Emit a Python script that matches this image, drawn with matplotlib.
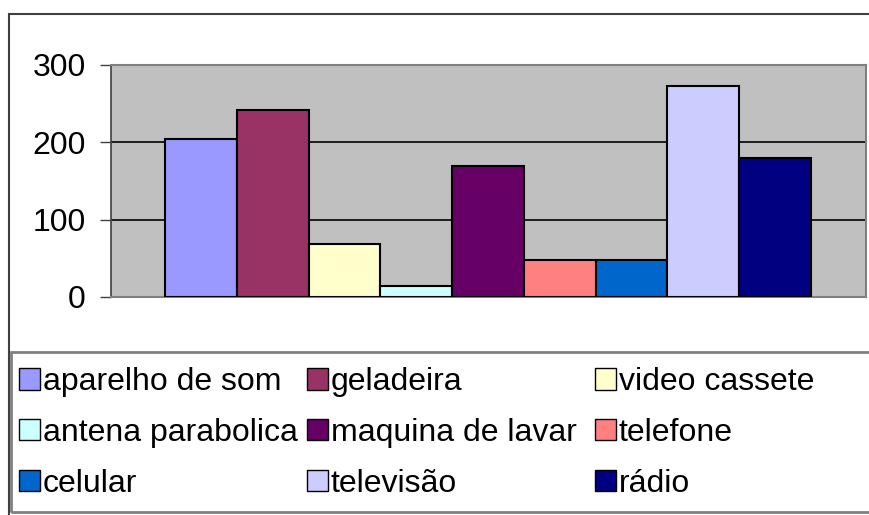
"""Excel-style bar chart: household appliances count, one bar per item."""
import matplotlib
matplotlib.use("Agg")
import matplotlib.pyplot as plt
from matplotlib.patches import Rectangle, Patch

plt.rcParams["font.family"] = ["Liberation Sans", "DejaVu Sans"]

# ── data ──────────────────────────────────────────────────────────────────────
items = [
    "aparelho de som", "geladeira", "video cassete",
    "antena parabolica", "maquina de lavar", "telefone",
    "celular", "televisão", "rádio",
]
values = [204, 242, 69, 14, 169, 48, 48, 273, 180]
colors = [
    "#9999FF", "#993366", "#FFFFCC",
    "#CCFFFF", "#660066", "#FF8080",
    "#0066CC", "#CCCCFF", "#000080",
]
yticks = [0, 100, 200, 300]

W, H = 870, 515
fig = plt.figure(figsize=(W / 100, H / 100), dpi=100)

# outer chart border (only top/left visible in the crop)
fig.add_artist(Rectangle((9 / W, -0.1), 1.2, 1 - 14 / H + 0.1,
                         transform=fig.transFigure, fill=False,
                         ec="#404040", lw=1.5))
# legend box
fig.add_artist(Rectangle((11 / W, 1 - 512 / H), 1.2, (512 - 352) / H,
                         transform=fig.transFigure, fill=False,
                         ec="#808080", lw=2))

ax = fig.add_axes([111 / W, 1 - 297 / H, (866 - 111) / W, (297 - 65) / H])
ax.set_facecolor("#C0C0C0")

x = list(range(len(items)))
ax.bar(x, values, width=1.0, color=colors, edgecolor="black", lw=1.5, zorder=3)

ax.set_xlim(-1.252, 9.266)
ax.set_ylim(0, 300)
ax.set_yticks(yticks)
ax.set_xticks([])
ax.tick_params(axis="y", length=8, width=1, color="#404040", pad=10,
               labelsize=23)
for y in yticks[1:-1]:
    ax.axhline(y, color="black", lw=1.2, zorder=1)
for side in ["top", "right", "bottom"]:
    ax.spines[side].set_color("#808080")
    ax.spines[side].set_linewidth(1.5)
ax.spines["left"].set_color("#404040")
ax.spines["left"].set_linewidth(1.2)

# legend: Excel lays it out row-wise with equal column widths,
# so one single-column legend per column
handles = [Patch(facecolor=c, edgecolor="black", lw=1) for c in colors]
col_x = [19, 307, 595]
for c, cx in enumerate(col_x):
    idx = [c, c + 3, c + 6]
    fig.legend([handles[i] for i in idx], [items[i] for i in idx],
               loc="upper left", bbox_to_anchor=(cx / W, 1 - 367 / H),
               frameon=False, fontsize=23, handlelength=0.66,
               handleheight=0.66, handletextpad=0.08, labelspacing=0.65,
               borderpad=0, borderaxespad=0)

fig.savefig("out.png", dpi=100)
